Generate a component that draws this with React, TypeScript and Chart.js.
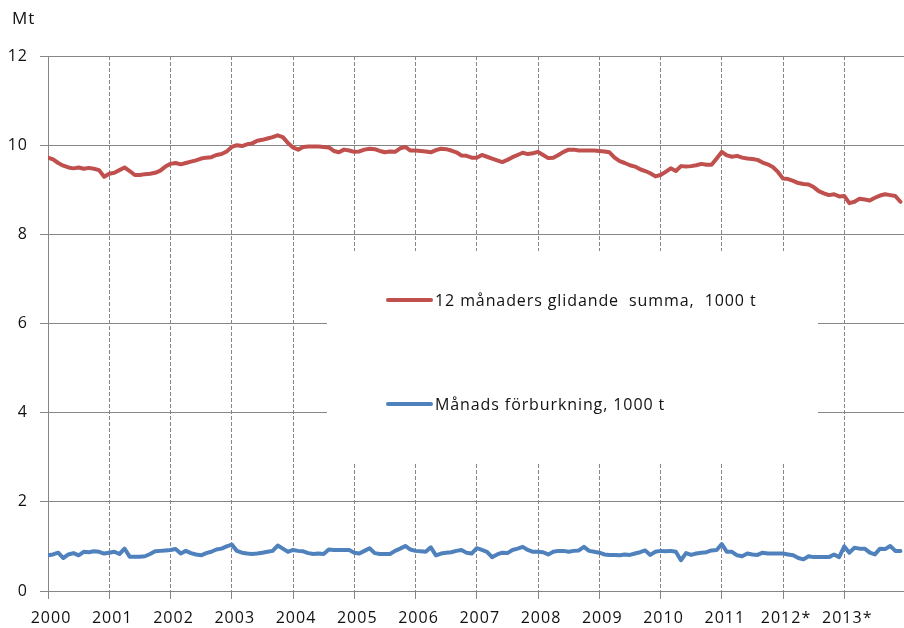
import React, { useEffect, useRef } from "react";
import { Chart, registerables } from "chart.js";

Chart.register(...registerables);

// Tick labels (one per January, months 0,12,...,156)
const yearLabels = [
  "2000", "2001", "2002", "2003", "2004", "2005", "2006",
  "2007", "2008", "2009", "2010", "2011", "2012*", "2013*",
];

// 12 månaders glidande summa (Mt), monthly Jan 2000 - Dec 2013
const rollingSum = [
  9.72, 9.68, 9.60, 9.54, 9.50, 9.48, 9.50, 9.47, 9.49, 9.47, 9.44, 9.29,
  9.36, 9.38, 9.44, 9.50, 9.42, 9.33, 9.33, 9.35, 9.36, 9.38, 9.43, 9.52,
  9.58, 9.60, 9.57, 9.60, 9.63, 9.66, 9.70, 9.72, 9.73, 9.78, 9.80, 9.86,
  9.96, 10.0, 9.98, 10.02, 10.04, 10.10, 10.12, 10.15, 10.18, 10.22, 10.18, 10.05,
  9.95, 9.90, 9.96, 9.97, 9.97, 9.97, 9.96, 9.95, 9.87, 9.84, 9.90, 9.88,
  9.85, 9.86, 9.90, 9.92, 9.91, 9.87, 9.84, 9.86, 9.85, 9.93, 9.96, 9.88,
  9.88, 9.87, 9.86, 9.84, 9.89, 9.92, 9.91, 9.88, 9.84, 9.77, 9.76, 9.72,
  9.72, 9.78, 9.74, 9.70, 9.66, 9.62, 9.67, 9.73, 9.78, 9.83, 9.80, 9.82,
  9.85, 9.78, 9.71, 9.72, 9.78, 9.85, 9.90, 9.90, 9.88, 9.88, 9.88, 9.88,
  9.87, 9.86, 9.84, 9.72, 9.64, 9.60, 9.55, 9.52, 9.46, 9.42, 9.37, 9.30,
  9.33, 9.40, 9.48, 9.42, 9.53, 9.52, 9.53, 9.55, 9.58, 9.56, 9.56, 9.70,
  9.85, 9.77, 9.74, 9.76, 9.72, 9.70, 9.69, 9.67, 9.61, 9.57, 9.51, 9.40,
  9.25, 9.24, 9.20, 9.15, 9.13, 9.12, 9.06, 8.97, 8.92, 8.88, 8.90, 8.85,
  8.86, 8.70, 8.73, 8.80, 8.78, 8.76, 8.82, 8.87, 8.90, 8.88, 8.86, 8.73,
];

// Månads förburkning (Mt), monthly Jan 2000 - Dec 2013
const monthly = [
  0.80, 0.82, 0.86, 0.74, 0.82, 0.85, 0.80, 0.88, 0.87, 0.89, 0.88, 0.84,
  0.86, 0.88, 0.83, 0.95, 0.77, 0.77, 0.77, 0.78, 0.83, 0.89, 0.90, 0.91,
  0.92, 0.94, 0.84, 0.90, 0.85, 0.82, 0.80, 0.85, 0.88, 0.93, 0.95, 1.00,
  1.04, 0.90, 0.86, 0.84, 0.83, 0.84, 0.86, 0.88, 0.90, 1.02, 0.95, 0.88,
  0.92, 0.90, 0.89, 0.85, 0.83, 0.84, 0.83, 0.93, 0.92, 0.92, 0.92, 0.92,
  0.86, 0.84, 0.90, 0.96, 0.85, 0.83, 0.83, 0.83, 0.90, 0.95, 1.01, 0.93,
  0.90, 0.89, 0.88, 0.98, 0.80, 0.84, 0.86, 0.87, 0.90, 0.92, 0.86, 0.84,
  0.96, 0.92, 0.88, 0.76, 0.82, 0.86, 0.85, 0.92, 0.95, 0.99, 0.92, 0.88,
  0.88, 0.87, 0.82, 0.88, 0.90, 0.90, 0.88, 0.90, 0.91, 0.99, 0.90, 0.88,
  0.86, 0.82, 0.81, 0.81, 0.80, 0.82, 0.81, 0.84, 0.87, 0.91, 0.81, 0.88,
  0.90, 0.89, 0.90, 0.88, 0.69, 0.85, 0.81, 0.84, 0.86, 0.87, 0.91, 0.92,
  1.05, 0.88, 0.88, 0.80, 0.78, 0.84, 0.82, 0.81, 0.86, 0.84, 0.84, 0.84,
  0.84, 0.82, 0.80, 0.74, 0.71, 0.78, 0.76, 0.76, 0.76, 0.76, 0.82, 0.76,
  1.00, 0.86, 0.97, 0.95, 0.95, 0.86, 0.82, 0.95, 0.94, 1.01, 0.90, 0.90,
];

const seriesNames = [
  "12 månaders glidande  summa,  1000 t",
  "Månads förburkning, 1000 t",
];
const yTicks = [0, 2, 4, 6, 8, 10, 12];
const unitLabel = "Mt";

const RED = "#C0504D";
const BLUE = "#4F81BD";
const GRID = "#868686";
const FONT = "'Open Sans', 'Noto Sans', sans-serif";

const legendBoxPlugin = {
  id: "legendBox",
  beforeDraw(chart: any) {
    chart.ctx.letterSpacing = "1px";
  },
  beforeDatasetsDraw(chart: any) {
    const ctx = chart.ctx;
    ctx.save();
    ctx.fillStyle = "#ffffff";
    ctx.fillRect(327, 251, 491, 211);
    const items = [
      { color: RED, y: 300, text: seriesNames[0] },
      { color: BLUE, y: 404, text: seriesNames[1] },
    ];
    ctx.font = `16px ${FONT}`;
    ctx.textBaseline = "middle";
    ctx.letterSpacing = "0.9px";
    for (const it of items) {
      ctx.strokeStyle = it.color;
      ctx.lineWidth = 4;
      ctx.lineCap = "round";
      ctx.beginPath();
      ctx.moveTo(388, it.y);
      ctx.lineTo(431, it.y);
      ctx.stroke();
      ctx.fillStyle = "#111";
      ctx.fillText(it.text, 435, it.y + 1);
    }
    ctx.restore();
  },
  afterDraw(chart: any) {
    const ctx = chart.ctx;
    ctx.save();
    ctx.font = `17px ${FONT}`;
    ctx.letterSpacing = "1px";
    ctx.fillStyle = "#111";
    ctx.textBaseline = "middle";
    ctx.fillText(unitLabel, 12, 19);
    ctx.restore();
  },
};

export default function App() {
  const ref = useRef<HTMLCanvasElement>(null);
  useEffect(() => {
    if (!ref.current) return;
    const chart = new Chart(ref.current, {
      type: "line",
      data: {
        datasets: [
          {
            label: seriesNames[0],
            data: rollingSum.map((v, i) => ({ x: i, y: v })),
            borderColor: RED,
            backgroundColor: RED,
            borderWidth: 4,
            pointRadius: 0,
            tension: 0,
            borderJoinStyle: "round",
            borderCapStyle: "round",
          },
          {
            label: seriesNames[1],
            data: monthly.map((v, i) => ({ x: i, y: v })),
            borderColor: BLUE,
            backgroundColor: BLUE,
            borderWidth: 4,
            pointRadius: 0,
            tension: 0,
            borderJoinStyle: "round",
            borderCapStyle: "round",
          },
        ],
      },
      options: {
        animation: false,
        responsive: false,
        layout: { padding: { top: 56, left: 0, right: 0, bottom: 0 } },
        plugins: { legend: { display: false }, tooltip: { enabled: false } },
        scales: {
          x: {
            type: "linear",
            min: 0,
            max: 167.7,
            afterBuildTicks: (s: any) => {
              s.ticks = yearLabels.map((_, i) => ({ value: i * 12 }));
            },
            afterFit: (s: any) => {
              s.height = 37;
            },
            ticks: {
              callback: (v: any) => yearLabels[Math.round(Number(v) / 12)],
              font: { family: FONT, size: 16 },
              color: "#111",
              maxRotation: 0,
              autoSkip: false,
              padding: 10,
              labelOffset: 3,
            },
            grid: {
              color: (c: any) => (c.index === 0 ? "rgba(0,0,0,0)" : GRID),
              tickBorderDash: [],
              tickColor: GRID,
              tickLength: 8,
              lineWidth: 1,
            },
            border: { display: true, color: GRID, width: 1, dash: [4, 2] },
          },
          y: {
            min: 0,
            max: 12,
            afterBuildTicks: (s: any) => {
              s.ticks = yTicks.map((v) => ({ value: v }));
            },
            afterFit: (s: any) => {
              s.width = 48;
            },
            ticks: {
              font: { family: FONT, size: 16 },
              color: "#111",
              padding: 12,
            },
            grid: {
              color: GRID,
              tickColor: GRID,
              tickLength: 8,
              lineWidth: 1,
            },
            border: { display: true, color: GRID, width: 1 },
          },
        },
      },
      plugins: [legendBoxPlugin],
    } as any);
    return () => chart.destroy();
  }, []);
  return (
    <div style={{ position: "absolute", left: 0, top: 0, width: 904, height: 628, background: "#fff" }}>
      <canvas ref={ref} width={904} height={628} style={{ display: "block" }} />
    </div>
  );
}
